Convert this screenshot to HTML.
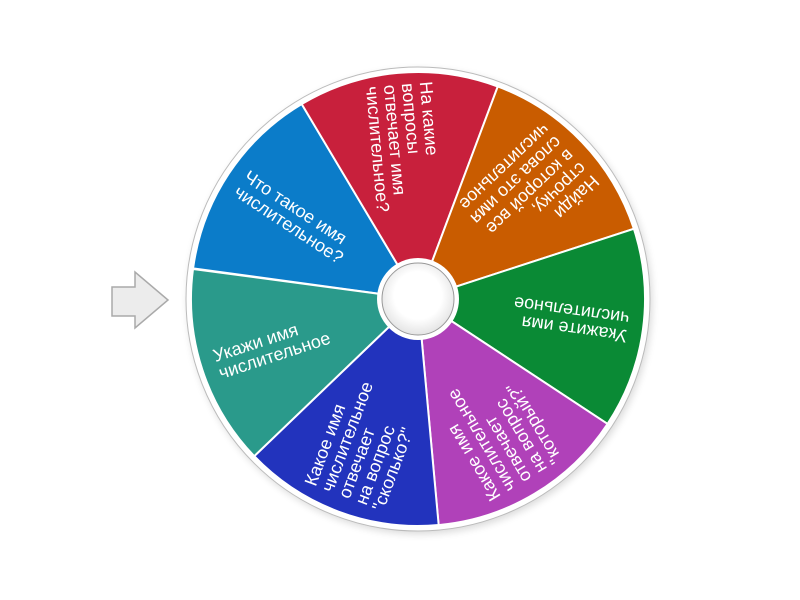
<!DOCTYPE html>
<html><head><meta charset="utf-8"><style>
html,body{margin:0;padding:0;background:#fff;}
svg{display:block}
text{font-family:"Liberation Sans","DejaVu Sans",sans-serif;font-size:18px;fill:#fff;text-anchor:start;}
</style></head><body>
<svg width="800" height="600" viewBox="0 0 800 600" xmlns="http://www.w3.org/2000/svg">
<defs>
<filter id="sh" x="-20%" y="-20%" width="140%" height="140%"><feGaussianBlur stdDeviation="4"/></filter>
<radialGradient id="hub" cx="50%" cy="45%" r="55%"><stop offset="0.6" stop-color="#fff"/><stop offset="1" stop-color="#e4e4e4"/></radialGradient>
</defs>
<polygon points="112,287 135,287 135,272 168,300 135,328 135,316 112,316" fill="#ececec" stroke="#aaa" stroke-width="1.5"/>
<circle cx="420" cy="302" r="232" fill="#000" opacity="0.15" filter="url(#sh)"/>
<circle cx="418" cy="299" r="232" fill="#fff" stroke="#bbb" stroke-width="1"/>
<g id="wheel"></g>
<circle cx="418" cy="299" r="41" fill="#fff"/>
<circle cx="418" cy="299" r="36" fill="url(#hub)" stroke="#999" stroke-width="1"/>
<g id="texts">
<g transform="translate(418,299) rotate(33.4)"><text x="-212" y="-3">Что такое имя</text><text x="-212" y="15">числительное?</text></g>
<g transform="translate(418,299) rotate(84.9)"><text x="-216" y="-21">На какие</text><text x="-216" y="-3">вопросы</text><text x="-216" y="15">отвечает имя</text><text x="-216" y="33">числительное?</text></g>
<g transform="translate(418,299) rotate(136.3)"><text x="-212" y="-30">Найди</text><text x="-212" y="-12">строчку,</text><text x="-212" y="6">в которой все</text><text x="-212" y="24">слова это имя</text><text x="-212" y="42">числительное</text></g>
<g transform="translate(418,299) rotate(187.7)"><text x="-212" y="-3">Укажите имя</text><text x="-212" y="15">числительное</text></g>
<g transform="translate(418,299) rotate(239.1)"><text x="-212" y="-30">Какое имя</text><text x="-212" y="-12">числительное</text><text x="-212" y="6">отвечает</text><text x="-212" y="24">на вопрос</text><text x="-212" y="42">"который?"</text></g>
<g transform="translate(418,299) rotate(290.5)"><text x="-212" y="-30">Какое имя</text><text x="-212" y="-12">числительное</text><text x="-212" y="6">отвечает</text><text x="-212" y="24">на вопрос</text><text x="-212" y="42">"сколько?"</text></g>
<g transform="translate(418,299) rotate(341.9)"><text x="-212" y="-3">Укажи имя</text><text x="-212" y="15">числительное</text></g>
</g>
<script>
(function(){
var cols=["#0b7cc9","#c8203c","#c95c00","#0a8a35","#b041b9","#2233bd","#2a9a8b"];
var starts=[120.8,69.4,18,326.6,275.2,223.8,172.4];
var g=document.getElementById('wheel'),cx=418,cy=299,R=227,ns="http://www.w3.org/2000/svg";
function pt(a){var r=a*Math.PI/180;return [cx+R*Math.cos(r),cy-R*Math.sin(r)];}
for(var i=0;i<7;i++){
 var a0=starts[i],a1=a0+360/7;
 var p0=pt(a0),p1=pt(a1);
 var d="M"+cx+","+cy+" L"+p0[0]+","+p0[1]+" A"+R+","+R+" 0 0 0 "+p1[0]+","+p1[1]+" Z";
 var p=document.createElementNS(ns,"path");p.setAttribute("d",d);p.setAttribute("fill",cols[i]);p.setAttribute("stroke","#fff");p.setAttribute("stroke-width","2");g.appendChild(p);
}
})();
</script>
</svg>
</body></html>
